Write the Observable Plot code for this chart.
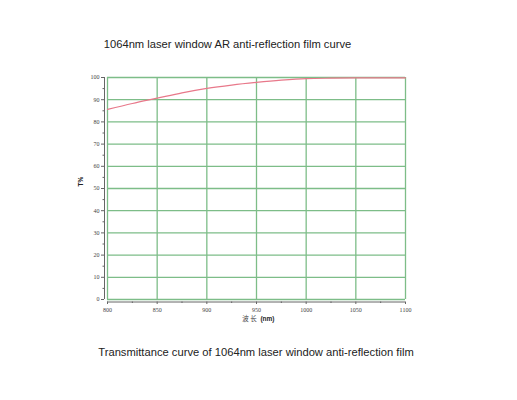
<!DOCTYPE html>
<html>
<head>
<meta charset="utf-8">
<script src="https://cdn.jsdelivr.net/npm/d3@7"></script>
<script src="https://cdn.jsdelivr.net/npm/@observablehq/plot@0.6"></script>
<style>
  html, body { margin: 0; padding: 0; background: #fff; }
  #wrap { position: relative; width: 517px; height: 400px; overflow: hidden; }
  .title { position: absolute; text-align: center; font-family: "Liberation Sans", Arial, sans-serif; font-size: 11.2px; color: #222; white-space: nowrap; }
  #t1 { top: 38px; left: 0; width: 455px; }
  #t2 { top: 346px; left: 0; width: 512px; }
  #chart { position: absolute; top: 60px; left: 0; }
</style>
</head>
<body>
<div id="wrap">
  <div class="title" id="t1">1064nm laser window AR anti-reflection film curve</div>
  <div id="chart"></div>
  <div class="title" id="t2">Transmittance curve of 1064nm laser window anti-reflection film</div>
</div>
<script>
const wavelength = [800, 825, 850, 875, 900, 925, 950, 975, 1000, 1025, 1050, 1075, 1100];
const transmittance = [85.6, 88.3, 90.7, 93.1, 95.1, 96.6, 97.8, 98.8, 99.5, 99.7, 99.8, 99.8, 99.8];
const xTicks = [800, 850, 900, 950, 1000, 1050, 1100];
const yTicks = [0, 10, 20, 30, 40, 50, 60, 70, 80, 90, 100];
const xMinor = [825, 875, 925, 975, 1025, 1075];
const yMinor = [5, 15, 25, 35, 45, 55, 65, 75, 85, 95];

const data = wavelength.map((w, i) => ({w, t: transmittance[i]}));
const grid = "#7dbd88";
const tickFont = "Liberation Serif, serif";

const chart = Plot.plot({
  width: 517,
  height: 280,
  marginLeft: 107,
  marginRight: 112,
  marginTop: 17,
  marginBottom: 41,
  x: {domain: [800, 1100]},
  y: {domain: [0, 100]},
  style: {background: "white", fontFamily: tickFont},
  marks: [
    Plot.ruleY(yTicks, {stroke: grid, strokeWidth: 1.3}),
    Plot.ruleX(xTicks, {stroke: grid, strokeWidth: 1.3}),
    Plot.ruleY([0], {dy: 2.5, stroke: "#666", strokeWidth: 1}),
    Plot.ruleX([800], {dx: -3, stroke: "#666", strokeWidth: 1}),
    Plot.axisY(yTicks, {anchor: "left", tickSize: 3, dx: -3, tickPadding: 2, fontSize: 6, fontFamily: tickFont, tickFormat: "d", stroke: "#666", fill: "#444", label: null}),
    Plot.axisY(yMinor, {anchor: "left", tickSize: 1.5, dx: -3, text: null, stroke: "#666", label: null}),
    Plot.axisX(xTicks, {anchor: "bottom", tickSize: 2.5, dy: 2.5, tickPadding: 3, fontSize: 6, fontFamily: tickFont, tickFormat: "d", stroke: "#666", fill: "#444", label: null}),
    Plot.axisX(xMinor, {anchor: "bottom", tickSize: 1.5, dy: 2.5, text: null, stroke: "#666", label: null}),
    Plot.line(data, {x: "w", y: "t", curve: "monotone-x", stroke: "#e8788a", strokeWidth: 1.2}),
    Plot.text(["波 长"], {frameAnchor: "bottom", dy: 21, dx: -7, fontSize: 6.5, fontFamily: "Noto Sans CJK SC", fill: "#444"}),
    Plot.text(["(nm)"], {frameAnchor: "bottom", dy: 21, dx: 11, fontSize: 6.5, fontWeight: "bold", fontFamily: "Liberation Sans, sans-serif", fill: "#222"}),
    Plot.text(["T%"], {frameAnchor: "left", dx: -27, dy: -2, rotate: -90, fontSize: 6.5, fontWeight: "bold", fontFamily: "Liberation Sans, sans-serif", fill: "#222"})
  ]
});
document.getElementById("chart").appendChild(chart);
</script>
</body>
</html>
